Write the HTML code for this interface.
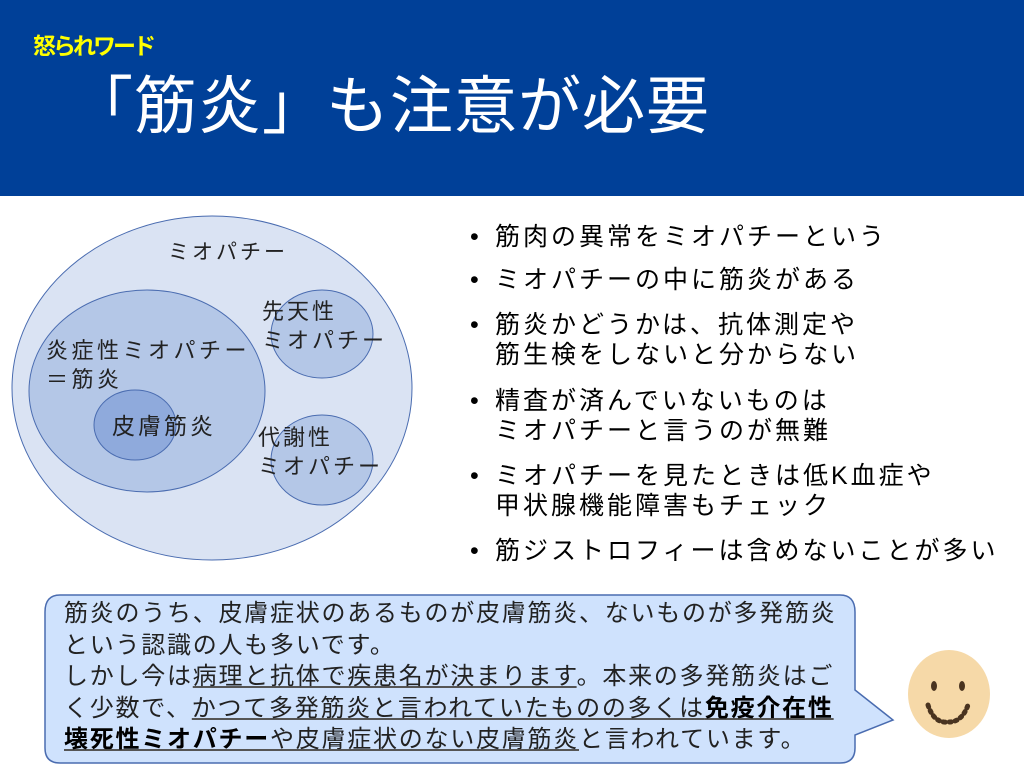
<!DOCTYPE html>
<html><head><meta charset="utf-8"><style>
body{margin:0;width:1024px;height:768px;background:#fff;position:relative;overflow:hidden;font-family:"Liberation Sans","Noto Sans CJK JP",sans-serif;}
.hdr{position:absolute;left:0;top:0;width:1024px;height:196px;background:#004098;}
.sub{position:absolute;left:33px;top:27px;font-size:23px;font-weight:bold;color:#ffff00;letter-spacing:-3px;}
.ttl{position:absolute;left:70px;top:70px;font-size:63px;color:#fff;white-space:nowrap;line-height:1.2;letter-spacing:1px;}
.bl{position:absolute;left:472px;font-size:25px;color:#000;line-height:30px;white-space:nowrap;letter-spacing:3px;}
.bl span{position:absolute;left:-2px;}
.bl div{margin-left:23px;}
.t{position:absolute;font-size:21px;color:#222;white-space:nowrap;line-height:29px;letter-spacing:3px;}
.msg{position:absolute;left:64px;top:598px;font-size:24px;line-height:31.5px;color:#222;white-space:nowrap;letter-spacing:1.75px;}
.msg u{text-decoration-color:#555;}
</style></head><body>
<div class="hdr"></div>
<div class="sub">怒られワード</div>
<div class="ttl">「筋炎」も注意が必要</div>

<svg style="position:absolute;left:0;top:0" width="1024" height="768">
<ellipse cx="212" cy="388" rx="200" ry="172" fill="#dae3f3" stroke="#4a6cb0" stroke-width="1"/>
<ellipse cx="147" cy="391" rx="118" ry="101" fill="#b4c7e7" stroke="#4a6cb0" stroke-width="1"/>
<ellipse cx="135" cy="425" rx="41" ry="35" fill="#8faadc" stroke="#4a6cb0" stroke-width="1"/>
<ellipse cx="322" cy="334" rx="51" ry="44" fill="#b4c7e7" stroke="#4a6cb0" stroke-width="1"/>
<ellipse cx="322" cy="460" rx="51" ry="45" fill="#b4c7e7" stroke="#4a6cb0" stroke-width="1"/>
<path d="M60 595 H840 Q855 595 855 612 V690 L893 720 L855 735 V748 Q855 763 840 763 H60 Q45 763 45 748 V612 Q45 595 60 595 Z" fill="#cfe2fd" stroke="#4a6cb0" stroke-width="1.5"/>
<ellipse cx="949" cy="694" rx="41" ry="44" fill="#f6d9a8"/>
<ellipse cx="934" cy="686" rx="3" ry="5" fill="#4a3420"/>
<ellipse cx="962" cy="686" rx="3" ry="5" fill="#4a3420"/>
<path d="M928 705 Q934 724 949 722 Q962 722 968 705" fill="none" stroke="#4a3420" stroke-width="5" stroke-linecap="round" stroke-dasharray="2 4"/>
</svg>

<div class="t" style="left:168px;top:238px">ミオパチー</div>
<div class="t" style="left:46px;top:336px;font-size:22px;letter-spacing:3.5px">炎症性ミオパチー<br>＝筋炎</div>
<div class="t" style="left:112px;top:412px;font-size:23px">皮膚筋炎</div>
<div class="t" style="left:262px;top:297px;font-size:22px">先天性<br>ミオパチー</div>
<div class="t" style="left:258px;top:423px;font-size:22px">代謝性<br>ミオパチー</div>

<div class="bl" style="top:222px"><span>•</span><div>筋肉の異常をミオパチーという</div></div>
<div class="bl" style="top:265px"><span>•</span><div>ミオパチーの中に筋炎がある</div></div>
<div class="bl" style="top:310px"><span>•</span><div>筋炎かどうかは、抗体測定や<br>筋生検をしないと分からない</div></div>
<div class="bl" style="top:386px"><span>•</span><div>精査が済んでいないものは<br>ミオパチーと言うのが無難</div></div>
<div class="bl" style="top:461px"><span>•</span><div>ミオパチーを見たときは低K血症や<br>甲状腺機能障害もチェック</div></div>
<div class="bl" style="top:536px"><span>•</span><div>筋ジストロフィーは含めないことが多い</div></div>

<div class="msg">筋炎のうち、皮膚症状のあるものが皮膚筋炎、ないものが多発筋炎<br>という認識の人も多いです。<br>しかし今は<u>病理と抗体で疾患名が決まります</u>。本来の多発筋炎はご<br>く少数で、<u>かつて多発筋炎と言われていたものの多くは<b style="color:#000">免疫介在性</b></u><br><u><b style="color:#000">壊死性ミオパチー</b>や皮膚症状のない皮膚筋炎</u>と言われています。</div>
</body></html>
